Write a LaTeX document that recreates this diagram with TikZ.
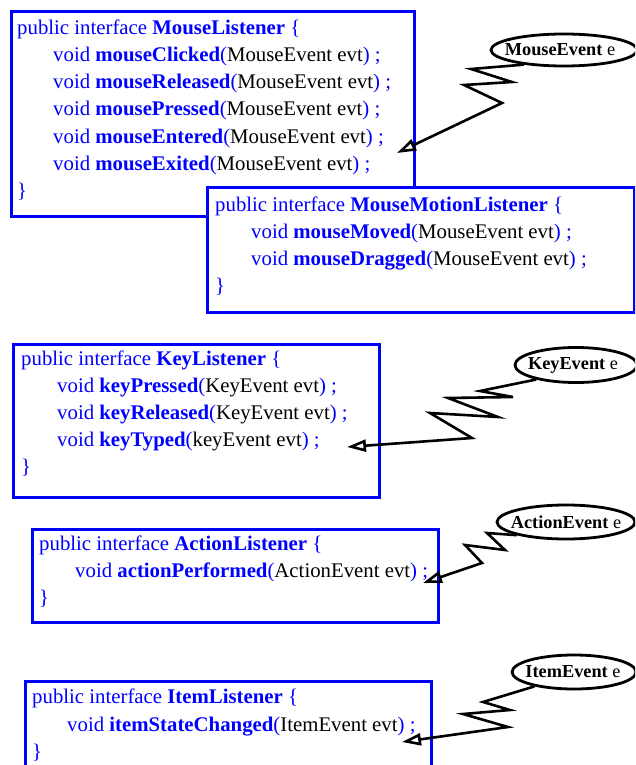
\documentclass[tikz,border=0pt]{standalone}
\usepackage{fontspec}
\setmainfont{Liberation Serif}
\usetikzlibrary{arrows.meta,shapes.geometric}
\definecolor{jblue}{RGB}{0,0,255}
% one method declaration: blue keyword/name, black parameter list
\newcommand\jmethod[2]{void \textbf{#1}(\textcolor{black}{#2}) ;}
\newcommand\jhead[1]{public interface \textbf{#1} \{}

\begin{document}
\begin{tikzpicture}[x=1pt,y=-1pt,
  ibox/.style={draw=jblue, line width=3pt, fill=white, rectangle, anchor=north west, inner sep=0pt},
  code/.style={anchor=base west, inner sep=0pt, text=jblue, font=\fontsize{20.8}{25}\selectfont},
  evt/.style={ellipse, draw=black, line width=2.8pt, fill=white, inner sep=0pt},
  evtext/.style={inner sep=0pt, font=\fontsize{18.3}{20}\selectfont},
  fire/.style={draw=black, line width=2.6pt, line join=miter, -{Triangle[open,length=19pt,width=12pt]}}
]
\clip (0,0) rectangle (635,765);

% ---------------- MouseListener ----------------
\node[ibox, minimum width=403, minimum height=205] (mlbox) at (10,10) {};
\node[code] (ml0) at (17,35)  {\jhead{MouseListener}};
\node[code] (ml1) at (53,62)  {\jmethod{mouseClicked}{MouseEvent evt}};
\node[code] (ml2) at (53,89)  {\jmethod{mouseReleased}{MouseEvent evt}};
\node[code] (ml3) at (53,116) {\jmethod{mousePressed}{MouseEvent evt}};
\node[code] (ml4) at (53,143) {\jmethod{mouseEntered}{MouseEvent evt}};
\node[code] (ml5) at (53,170) {\jmethod{mouseExited}{MouseEvent evt}};
\node[code] (ml6) at (17,197) {\}};

\coordinate (mtip) at (397,153);
\node[evt, minimum width=146, minimum height=32] (mev) at (564,50) {};
\node[evtext] (mevt) at (560,50) {\textbf{MouseEvent} e};
\draw[fire] (mev.200) -- (471,69) -- (512,82) -- (464,85) -- (502,103) -- (mtip);

% ---------------- MouseMotionListener ----------------
\node[ibox, minimum width=427, minimum height=125] (mmbox) at (206,186) {};
\node[code] (mm0) at (215,211) {\jhead{MouseMotionListener}};
\node[code] (mm1) at (251,238) {\jmethod{mouseMoved}{MouseEvent evt}};
\node[code] (mm2) at (251,265) {\jmethod{mouseDragged}{MouseEvent evt}};
\node[code] (mm3) at (215,292) {\}};

% ---------------- KeyListener ----------------
\node[ibox, minimum width=366, minimum height=153] (klbox) at (12,343) {};
\node[code] (kl0) at (21,365) {\jhead{KeyListener}};
\node[code] (kl1) at (57,392) {\jmethod{keyPressed}{KeyEvent evt}};
\node[code] (kl2) at (57,419) {\jmethod{keyReleased}{KeyEvent evt}};
\node[code] (kl3) at (57,446) {\jmethod{keyTyped}{keyEvent evt}};
\node[code] (kl4) at (21,473) {\}};

\coordinate (ktip) at (347,447);
\node[evt, minimum width=122, minimum height=35] (kev) at (576,365) {};
\node[evtext] (kevt) at (573,365) {\textbf{KeyEvent} e};
\draw[fire] (kev.200) -- (480,391) -- (513,397) -- (448,398) -- (498,417) -- (430,413) -- (472,438) -- (ktip);

% ---------------- ActionListener ----------------
\node[ibox, minimum width=406, minimum height=93] (albox) at (31,528) {};
\node[code] (al0) at (39,550) {\jhead{ActionListener}};
\node[code] (al1) at (75,577) {\jmethod{actionPerformed}{ActionEvent evt}};
\node[code] (al2) at (39,604) {\}};

\coordinate (atip) at (423,583);
\node[evt, minimum width=138, minimum height=34] (aev) at (566,522) {};
\node[evtext] (aevt) at (566,522) {\textbf{ActionEvent} e};
\draw[fire] (aev.195) -- (487,533) -- (505,550) -- (465,545) -- (482,563) -- (atip);

% ---------------- ItemListener ----------------
\node[ibox, minimum width=406, minimum height=100] (ilbox) at (24,680) {};
\node[code] (il0) at (32,703) {\jhead{ItemListener}};
\node[code] (il1) at (67,731) {\jmethod{itemStateChanged}{ItemEvent evt}};
\node[code] (il2) at (32,758) {\}};

\coordinate (itip) at (402,742);
\node[evt, minimum width=124, minimum height=34] (iev) at (574,672) {};
\node[evtext] (ievt) at (573,672) {\textbf{ItemEvent} e};
\draw[fire] (iev.200) -- (483,702) -- (510,710) -- (463,714) -- (508,727) -- (itip);
\end{tikzpicture}
\end{document}
